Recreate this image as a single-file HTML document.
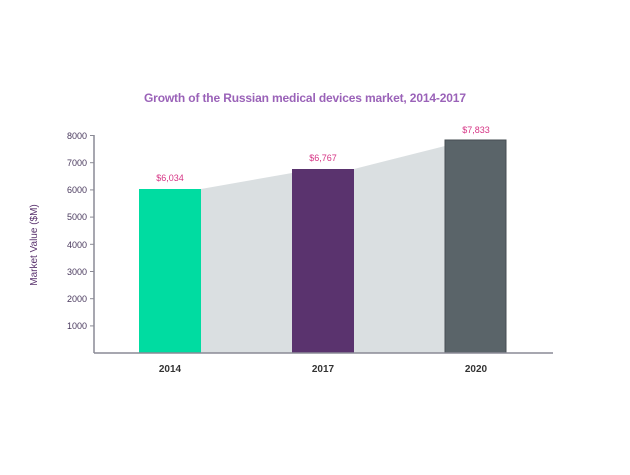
<!DOCTYPE html>
<html><head><style>body{margin:0;background:#fff}</style></head><body>
<svg width="630" height="470" xmlns="http://www.w3.org/2000/svg" font-family="Liberation Sans, sans-serif">
<text x="305" y="102" text-anchor="middle" font-size="12" font-weight="bold" fill="#9a62b8" textLength="322">Growth of the Russian medical devices market, 2014-2017</text>
<polygon points="201,189 292,173 292,353 201,353" fill="#dadfe1"/>
<polygon points="354,169 445,146 445,353 354,353" fill="#dadfe1"/>
<rect x="139" y="189" width="62" height="164" fill="#00dca1"/>
<rect x="292" y="169" width="62" height="184" fill="#5a336e"/>
<rect x="445" y="140" width="61" height="213" fill="#5a6469" stroke="#454d52" stroke-width="1"/>
<line x1="94" y1="135" x2="94" y2="353" stroke="#8a8a95" stroke-width="1.5"/>
<line x1="94" y1="353" x2="553" y2="353" stroke="#8a8a95" stroke-width="1.5"/>
<g stroke="#8a8a95" stroke-width="1">
<line x1="90" y1="135.5" x2="94" y2="135.5"/><line x1="90" y1="162.7" x2="94" y2="162.7"/><line x1="90" y1="189.9" x2="94" y2="189.9"/><line x1="90" y1="217.1" x2="94" y2="217.1"/><line x1="90" y1="244.3" x2="94" y2="244.3"/><line x1="90" y1="271.5" x2="94" y2="271.5"/><line x1="90" y1="298.7" x2="94" y2="298.7"/><line x1="90" y1="325.9" x2="94" y2="325.9"/>
</g>
<g font-size="9" fill="#4a3a5e" text-anchor="end">
<text x="87" y="139">8000</text><text x="87" y="166">7000</text><text x="87" y="193">6000</text><text x="87" y="220">5000</text><text x="87" y="248">4000</text><text x="87" y="275">3000</text><text x="87" y="302">2000</text><text x="87" y="329">1000</text>
</g>
<text transform="translate(37,245) rotate(-90)" text-anchor="middle" font-size="10" fill="#5a336e">Market Value ($M)</text>
<g font-size="9" fill="#d63384" text-anchor="middle">
<text x="170" y="181">$6,034</text><text x="323" y="161">$6,767</text><text x="476" y="133">$7,833</text>
</g>
<g font-size="10" font-weight="bold" fill="#333" text-anchor="middle">
<text x="170" y="372">2014</text><text x="323" y="372">2017</text><text x="476" y="372">2020</text>
</g>
</svg>
</body></html>
